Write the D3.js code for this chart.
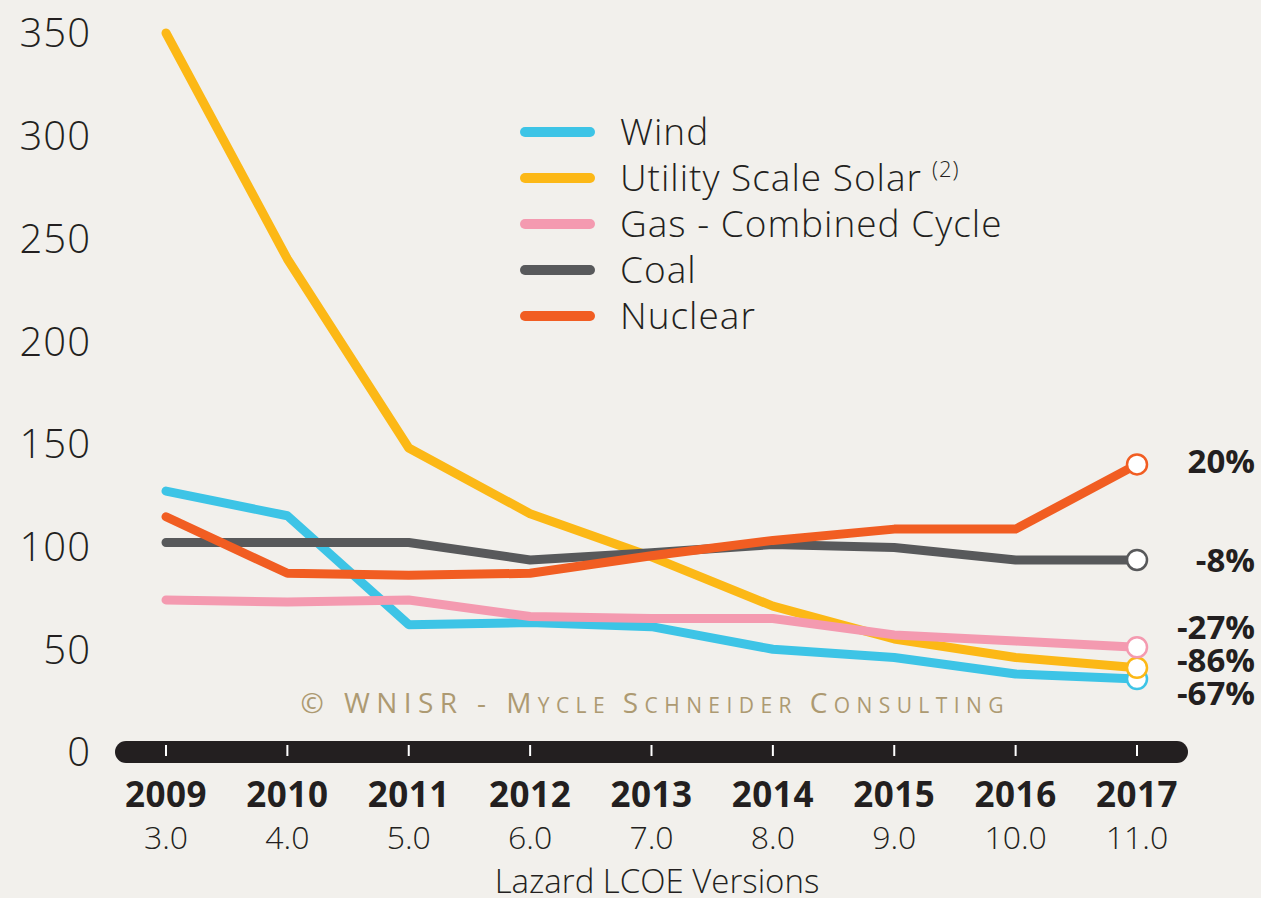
<!DOCTYPE html>
<html>
<head>
<meta charset="utf-8">
<script src="https://cdn.jsdelivr.net/npm/d3@7"></script>
<style>
  body { margin: 0; background: #f2f0ec; }
  svg { display: block; }
</style>
</head>
<body>
<svg id="chart" width="1261" height="898"></svg>
<script>
// years and Lazard versions on the x axis
const years = ["2009", "2010", "2011", "2012", "2013", "2014", "2015", "2016", "2017"];
const versions = ["3.0", "4.0", "5.0", "6.0", "7.0", "8.0", "9.0", "10.0", "11.0"];
const yTicks = [0, 50, 100, 150, 200, 250, 300, 350];

// LCOE values ($/MWh)
const wind    = [127, 115, 62, 63, 61, 50, 46, 38, 35.5];
const solar   = [350, 240, 148, 116, 95, 71, 55, 46, 41];
const gas     = [74, 73, 74, 66, 65, 65, 57, 54, 51];
const coal    = [102, 102, 102, 93.5, 97, 101, 99.5, 93.5, 93.5];
const nuclear = [114.5, 87, 86, 87, 95.5, 103, 108.5, 108.5, 140];

const seriesNames = ["Wind", "Utility Scale Solar", "Gas - Combined Cycle", "Coal", "Nuclear"];
const seriesColors = ["#3dc4e6", "#fcb816", "#f49ab0", "#58595b", "#f15d22"];
const changeLabels = ["-67%", "-86%", "-27%", "-8%", "20%"];

const seriesData = [wind, solar, gas, coal, nuclear];

const svg = d3.select("#chart");
const ink = "#231f20";
const font = "'Open Sans', sans-serif";

const x = d3.scalePoint().domain(years).range([166, 1137]);
const y = d3.scaleLinear().domain([0, 350]).range([752, 33]);

// y tick labels
svg.append("g")
    .selectAll("text")
    .data(yTicks)
    .enter().append("text")
    .attr("x", 91)
    .attr("y", d => y(d))
    .attr("dy", "0.36em")
    .attr("text-anchor", "end")
    .attr("font-family", font)
    .attr("font-weight", 300)
    .attr("font-size", "40px")
    .attr("letter-spacing", "1px")
    .attr("fill", ink)
    .text(d => d);

// thick rounded axis bar
svg.append("rect")
    .attr("x", 115)
    .attr("y", y(0) - 11)
    .attr("width", 1073)
    .attr("height", 22)
    .attr("rx", 11)
    .attr("fill", ink);

// small white ticks inside the bar
svg.append("g")
    .selectAll("line")
    .data(years)
    .enter().append("line")
    .attr("x1", d => x(d))
    .attr("x2", d => x(d))
    .attr("y1", y(0) - 7)
    .attr("y2", y(0) + 4)
    .attr("stroke", "#fff")
    .attr("stroke-width", 2);

// year labels
svg.append("g")
    .selectAll("text")
    .data(years)
    .enter().append("text")
    .attr("x", d => x(d))
    .attr("y", 807)
    .attr("text-anchor", "middle")
    .attr("font-family", font)
    .attr("font-weight", 700)
    .attr("font-size", "35px")
    .attr("letter-spacing", "0.5px")
    .attr("fill", ink)
    .text(d => d);

// version labels
svg.append("g")
    .selectAll("text")
    .data(versions)
    .enter().append("text")
    .attr("x", (d, i) => x(years[i]))
    .attr("y", 849)
    .attr("text-anchor", "middle")
    .attr("font-family", font)
    .attr("font-weight", 300)
    .attr("font-size", "32px")
    .attr("fill", ink)
    .text(d => d);

svg.append("text")
    .attr("x", 657)
    .attr("y", 893)
    .attr("text-anchor", "middle")
    .attr("font-family", font)
    .attr("font-weight", 300)
    .attr("font-size", "33px")
    .attr("fill", ink)
    .text("Lazard LCOE Versions");

// watermark, small caps built from two sizes
const markParts = [
    ["© WNISR - M", 28], ["YCLE ", 21], ["S", 28], ["CHNEIDER ", 21], ["C", 28], ["ONSULTING", 21]
];
svg.append("text")
    .attr("x", 652)
    .attr("y", 713)
    .attr("text-anchor", "middle")
    .attr("font-family", font)
    .attr("textLength", 703)
    .attr("lengthAdjust", "spacing")
    .attr("fill", "#ad9a72")
    .selectAll("tspan")
    .data(markParts)
    .enter().append("tspan")
    .attr("font-size", d => d[1] + "px")
    .text(d => d[0]);

// lines
const line = d3.line()
    .x((d, i) => x(years[i]))
    .y(d => y(d));

svg.append("g")
    .selectAll("path")
    .data(seriesData)
    .enter().append("path")
    .attr("d", d => line(d))
    .attr("fill", "none")
    .attr("stroke", (d, i) => seriesColors[i])
    .attr("stroke-width", 9)
    .attr("stroke-linecap", "round")
    .attr("stroke-linejoin", "round");

// end markers
const last = years[years.length - 1];
svg.append("g")
    .selectAll("circle")
    .data(seriesData)
    .enter().append("circle")
    .attr("cx", x(last))
    .attr("cy", d => y(d[d.length - 1]))
    .attr("r", 10)
    .attr("fill", "#fff")
    .attr("stroke", (d, i) => seriesColors[i])
    .attr("stroke-width", 2.5);

// change labels on the right
const labelY = [693, 660, 627, 560, 461];
svg.append("g")
    .selectAll("text")
    .data(changeLabels)
    .enter().append("text")
    .attr("x", 1255)
    .attr("y", (d, i) => labelY[i])
    .attr("dy", "0.36em")
    .attr("text-anchor", "end")
    .attr("font-family", font)
    .attr("font-weight", 700)
    .attr("font-size", "33px")
    .attr("fill", ink)
    .text(d => d);

// legend
const legend = svg.append("g")
    .selectAll("g")
    .data(seriesNames)
    .enter().append("g")
    .attr("transform", (d, i) => `translate(0, ${132 + i * 46})`);

legend.append("line")
    .attr("x1", 525)
    .attr("x2", 590)
    .attr("stroke", (d, i) => seriesColors[i])
    .attr("stroke-width", 10)
    .attr("stroke-linecap", "round");

const legendText = legend.append("text")
    .attr("x", 620)
    .attr("dy", "0.36em")
    .attr("font-family", font)
    .attr("font-weight", 300)
    .attr("font-size", "37px")
    .attr("letter-spacing", "1px")
    .attr("fill", ink)
    .text(d => d);

legendText.filter((d, i) => i === 1)
    .append("tspan")
    .attr("dx", 10)
    .attr("dy", -14)
    .attr("font-size", "22px")
    .text("(2)");
</script>
</body>
</html>
